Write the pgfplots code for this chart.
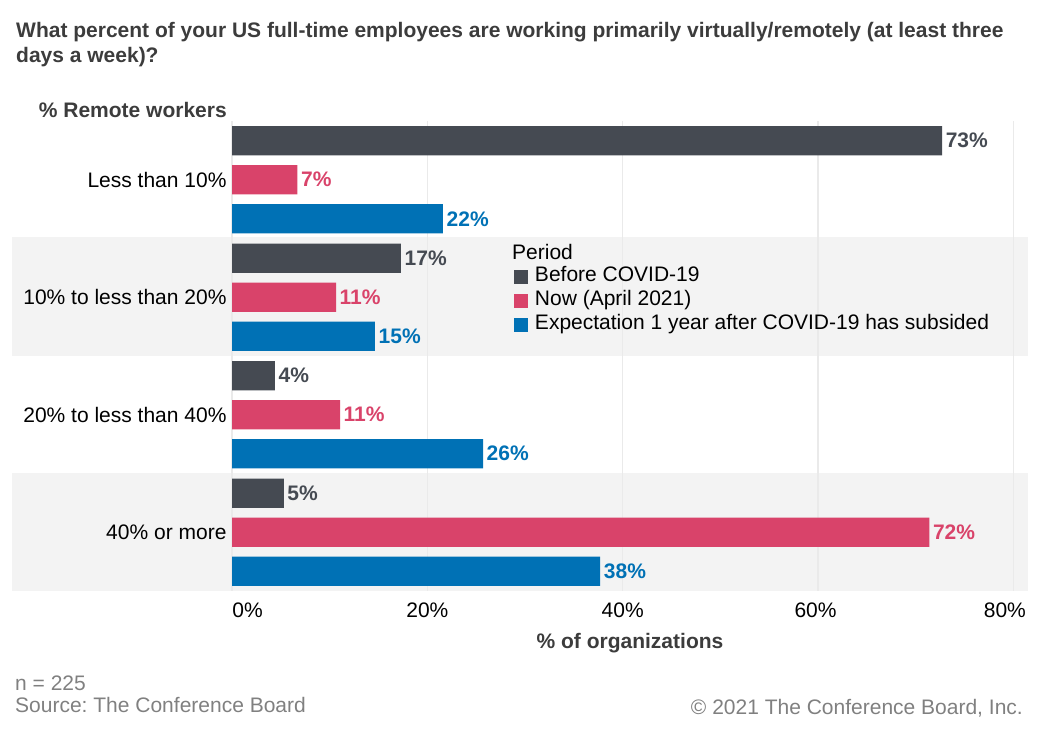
\documentclass[border=0pt]{standalone}
\usepackage{fontspec}
\setmainfont{Liberation Sans}
\usepackage{pgfplots}
\pgfplotsset{compat=1.18}
\usepackage{pgfplotstable}
\definecolor{cDark}{HTML}{454A52}
\definecolor{cPink}{HTML}{D9436A}
\definecolor{cBlue}{HTML}{0071B5}
\definecolor{cBand}{HTML}{F3F3F3}
\definecolor{cGrid}{HTML}{EAEAEA}
\definecolor{cTitle}{HTML}{3C3C3C}
\definecolor{cFoot}{HTML}{808080}
\newcommand{\fs}{\fontsize{21}{24}\selectfont}
\frenchspacing

\pgfplotstableread{
y x lab
-0.332 72.7 73
0.668 17.3 17
1.668 4.4 4
2.668 5.3 5
}\before
\pgfplotstableread{
y x lab
0 6.7 7
1 10.65 11
2 11.06 11
3 71.4 72
}\now
\pgfplotstableread{
y x lab
0.332 21.6 22
1.332 14.64 15
2.332 25.7 26
3.332 37.7 38
}\expect

\begin{document}
\frenchspacing
\begin{tikzpicture}[x=1pt,y=1pt]
\useasboundingbox (0,0) rectangle (1040,730);
\fill[cBand] (12,374) rectangle (1028,493);
\fill[cBand] (12,139) rectangle (1028,257);
\begin{axis}[
  anchor=south west, at={(232pt,139pt)},
  scale only axis, width=796pt, height=470pt,
  xmin=0, xmax=81.5, ymin=-0.5, ymax=3.5, y dir=reverse,
  axis line style={draw=none},
  xtick={0,20,40,60,80},
  xticklabels={\hspace*{31pt}0\%,20\%,40\%,60\%\hspace*{5pt},80\%\hspace*{17pt}},
  ytick={0,1,2,3},
  yticklabels={Less than 10\%,10\% to less than 20\%,20\% to less than 40\%,40\% or more},
  major tick length=0pt,
  xmajorgrids, major grid style={cGrid, line width=1.2pt},
  extra x ticks={0}, extra x tick labels={},
  extra x tick style={grid style={color=black!20, line width=1.2pt}},
  ticklabel style={font=\fs, text=black},
  xticklabel style={yshift=-8pt},
  yticklabel style={xshift=-2pt},
  /pgf/number format/assume math mode=true,
  xbar, bar shift=0pt, bar width=0.25,
  point meta=explicit symbolic,
  nodes near coords={\pgfplotspointmeta\%},
  legend image code/.code={\fill[#1] (0pt,-7pt) rectangle (14pt,7pt); \path (19pt,0pt);},
  legend style={at={(0.354,0.695)}, anchor=north west, draw=none, fill=none,
    font=\fs, inner sep=0pt, row sep=0pt,
    nodes={text height=15pt, text depth=5pt, inner sep=2pt, anchor=west}},
  legend cell align=left,
  clip=false,
]
\addplot[fill=cDark, draw=none,
  nodes near coords style={text=cDark, font=\bfseries\fs, anchor=west, inner sep=3.5pt}]
  table[x=x, y=y, meta=lab]{\before};
\addlegendentry{Before COVID-19}
\addplot[fill=cPink, draw=none,
  nodes near coords style={text=cPink, font=\bfseries\fs, anchor=west, inner sep=3.5pt}]
  table[x=x, y=y, meta=lab]{\now};
\addlegendentry{Now (April 2021)}
\addplot[fill=cBlue, draw=none,
  nodes near coords style={text=cBlue, font=\bfseries\fs, anchor=west, inner sep=3.5pt}]
  table[x=x, y=y, meta=lab]{\expect};
\addlegendentry{Expectation 1 year after COVID-19 has subsided}
\end{axis}
\node[anchor=west, font=\fs, inner sep=0pt] at (512,478) {Period};
\node[anchor=north west, align=left, font=\bfseries\fontsize{21}{25}\selectfont, text=cTitle, inner sep=0pt]
  at (16,708) {What percent of your US full-time employees are working primarily virtually/remotely (at least three\\days a week)?};
\node[anchor=east, font=\bfseries\fs, text=cTitle, inner sep=0pt] at (227,620) {\% Remote workers};
\node[font=\bfseries\fs, text=cTitle, inner sep=0pt] at (630,87) {\% of organizations};
\node[anchor=west, font=\fs, text=cFoot, inner sep=0pt] at (15,47) {n = 225};
\node[anchor=west, font=\fs, text=cFoot, inner sep=0pt] at (15,25) {Source: The Conference Board};
\node[anchor=east, font=\fs, text=cFoot, inner sep=0pt] at (1023,22) {© 2021 The Conference Board, Inc.};
\end{tikzpicture}
\end{document}
